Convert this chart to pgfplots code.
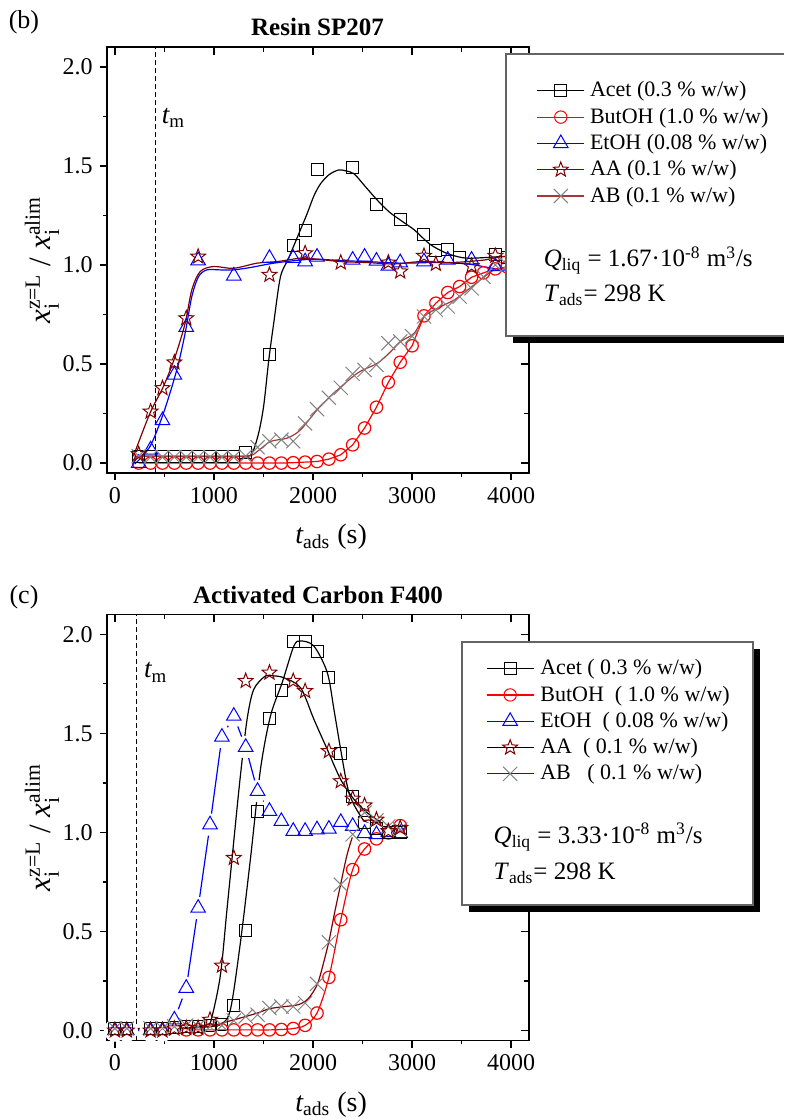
\documentclass[border=0pt]{standalone}
\usepackage{fontspec}
\setmainfont{Liberation Serif}
\usepackage{amsmath}
\usepackage{pgfplots}
\usepackage{pgfplotstable}
\pgfplotsset{compat=1.18}
\definecolor{dred}{RGB}{128,0,0}
\definecolor{abred}{RGB}{165,55,55}
\definecolor{xgray}{RGB}{130,130,130}
\definecolor{boxgray}{RGB}{100,100,100}

\pgfdeclareplotmark{ostar}{%
  \pgfpathmoveto{\pgfqpoint{0pt}{\pgfplotmarksize}}%
  \pgfpathlineto{\pgfqpoint{-0.24687\pgfplotmarksize}{0.33979\pgfplotmarksize}}%
  \pgfpathlineto{\pgfqpoint{-0.95106\pgfplotmarksize}{0.30902\pgfplotmarksize}}%
  \pgfpathlineto{\pgfqpoint{-0.39945\pgfplotmarksize}{-0.12979\pgfplotmarksize}}%
  \pgfpathlineto{\pgfqpoint{-0.58779\pgfplotmarksize}{-0.80902\pgfplotmarksize}}%
  \pgfpathlineto{\pgfqpoint{0pt}{-0.42\pgfplotmarksize}}%
  \pgfpathlineto{\pgfqpoint{0.58779\pgfplotmarksize}{-0.80902\pgfplotmarksize}}%
  \pgfpathlineto{\pgfqpoint{0.39945\pgfplotmarksize}{-0.12979\pgfplotmarksize}}%
  \pgfpathlineto{\pgfqpoint{0.95106\pgfplotmarksize}{0.30902\pgfplotmarksize}}%
  \pgfpathlineto{\pgfqpoint{0.24687\pgfplotmarksize}{0.33979\pgfplotmarksize}}%
  \pgfpathclose
  \pgfusepathqstroke
}

\pgfplotsset{
  base/.style={
    scale only axis, width=211pt, height=213pt,
    xmin=-80, xmax=4180, ymin=-0.05, ymax=2.1,
    xtick={0,1000,2000,3000,4000}, minor xtick={500,1500,2500,3500},
    ytick={0,0.5,1,1.5,2}, minor ytick={0.25,0.75,1.25,1.75},
    anchor=south west,
  },
  mainax/.style={base, axis on top,
    tick align=outside, xtick pos=left, ytick pos=left,
    axis line style={line width=0.8pt},
    major tick length=3.6pt, minor tick length=2pt,
    every tick/.style={black, line width=0.7pt},
    tick label style={font=\fontsize{12}{14}\selectfont},
    /pgf/number format/assume math mode=true,
    yticklabel style={/pgf/number format/fixed, /pgf/number format/fixed zerofill, /pgf/number format/precision=1},
    xticklabel style={/pgf/number format/set thousands separator={}},
  },
  tickax/.style={base,
    tick align=inside, xtick pos=right, ytick pos=right,
    xticklabels={}, yticklabels={}, axis line style={draw=none},
    major tick length=4pt, minor tick length=2.5pt,
    every tick/.style={black, line width=0.7pt},
  },
  legax/.style={base, hide axis,
    legend cell align=left,
    legend image code/.code={\draw[mark repeat=2,mark phase=2,##1] plot coordinates {(0pt,0pt) (11.8pt,0pt) (23.6pt,0pt)};},
  },
  legsty/.style={legend style={anchor=north west, draw=none, fill=none, inner sep=0pt, outer sep=0pt,
    font=\fontsize{11}{12}\selectfont, row sep=0pt, column sep=#1,
    nodes={inner sep=0pt, outer sep=0pt, minimum height=13.15pt}}},
  mk/.style={only marks, mark options={solid}, line width=0.5pt},
  sq/.style={mk, black, mark=square, mark size=3pt},
  ci/.style={red, mark=o, mark size=3.1pt, mark options={solid}, line width=0.6pt},
  tr/.style={mk, blue, mark=triangle, mark size=4.2pt},
  st/.style={mk, dred, mark=ostar, mark size=3.9pt},
  xx/.style={mk, xgray, mark=x, mark size=5pt},
  cv/.style={smooth, line width=0.6pt, no marks},
}

\pgfplotstableread{
x y
0 0
120 0
360 0
480 0
600 0.054
720 0.214
840 0.618
960 1.039
1080 1.481
1200 1.587
1320 1.43
1440 1.208
1560 1.107
1680 1.056
1800 1.006
1920 1.006
2040 1.014
2160 1.017
2280 1.051
2400 1.031
2520 0.995
2640 0.989
2760 1.0
2880 0.995
}\etohc

\begin{document}
\begin{tikzpicture}
\path[use as bounding box] (0pt,0pt) rectangle (392pt,560pt);

% ================= Panel (b) =================
\begin{axis}[mainax, at={(53.5pt,323.5pt)}]
\addplot[black, line width=0.5pt, dash pattern=on 2.5pt off 1.5pt] coordinates {(405,-0.05) (405,2.1)};
% curves
\addplot[cv, black] coordinates {(240,0.035) (800,0.035) (1300,0.035) (1384,0.05) (1450,0.15) (1502,0.29) (1553,0.52) (1604,0.71) (1671,0.94) (1750,1.03) (1850,1.15) (1941,1.26) (2010,1.35) (2076,1.41) (2160,1.455) (2255,1.479) (2330,1.475) (2414,1.46) (2520,1.40) (2616,1.345) (2700,1.30) (2785,1.261) (2900,1.22) (3022,1.177) (3100,1.14) (3190,1.101) (3300,1.07) (3393,1.051) (3562,1.034) (3899,1.042) (4000,1.04)};
\addplot[cv, blue] coordinates {(200,-0.005) (354,0.084) (490,0.252) (625,0.471) (709,0.656) (776,0.84) (844,0.941) (928,0.975) (1063,0.975) (1198,0.975) (1367,0.987) (1604,1.009) (1874,1.025) (2042,1.029) (2279,1.022) (2549,1.017) (2886,1.009) (3224,1.012) (3562,1.005) (3899,0.975) (4000,0.98)};
\addplot[cv, abred] coordinates {(200,0.035) (800,0.033) (1323,0.034) (1440,0.06) (1570,0.109) (1739,0.126) (1874,0.168) (2042,0.269) (2211,0.353) (2448,0.454) (2650,0.504) (2785,0.563) (2886,0.614) (3022,0.656) (3123,0.74) (3258,0.782) (3427,0.824) (3562,0.874) (3730,0.941) (3832,0.975) (4000,0.99)};
\addplot[cv, dred] coordinates {(186,0.034) (354,0.252) (490,0.387) (608,0.538) (709,0.706) (776,0.874) (861,0.967) (996,0.992) (1198,0.983) (1435,1.009) (1637,1.017) (1874,1.034) (2042,1.029) (2279,1.017) (2549,1.012) (2819,1.005) (3089,1.017) (3393,1.012) (3730,1.025) (3899,1.042) (4000,1.04)};
% ButOH
\addplot[ci] coordinates {(240,0) (360,0) (480,0) (600,0) (720,0) (840,0) (960,0) (1080,0) (1200,0) (1320,0) (1440,0) (1560,0) (1680,0) (1800,0.002) (1920,0.005) (2040,0.008) (2160,0.02) (2280,0.042) (2400,0.092) (2520,0.177) (2640,0.282) (2760,0.408) (2880,0.509) (3000,0.592) (3120,0.743) (3240,0.807) (3360,0.861) (3480,0.891) (3600,0.938) (3720,0.96) (3840,0.98) (3960,0.99)};
% markers
\addplot[sq] coordinates {(240,0.035) (360,0.035) (480,0.035) (600,0.035) (720,0.035) (840,0.035) (960,0.035) (1080,0.035) (1200,0.035) (1320,0.055) (1560,0.55) (1800,1.096) (1920,1.172) (2040,1.483) (2400,1.491) (2640,1.303) (2880,1.23) (3120,1.152) (3240,1.072) (3360,1.076) (3480,1.039) (3840,1.051) (3960,1.04)};
\addplot[tr] coordinates {(240,0.0) (360,0.067) (480,0.215) (600,0.445) (720,0.686) (840,1.022) (1200,0.945) (1560,1.034) (1800,1.034) (1920,1.017) (2040,1.04) (2400,1.025) (2520,1.04) (2640,1.02) (2760,0.995) (2880,1.012) (3120,1.017) (3360,1.025) (3600,1.025) (3840,0.992)};
\addplot[xx] coordinates {(240,0.035) (360,0.03) (480,0.03) (600,0.03) (720,0.03) (840,0.03) (960,0.03) (1080,0.03) (1200,0.03) (1320,0.035) (1440,0.08) (1560,0.11) (1680,0.118) (1800,0.11) (1920,0.2) (2040,0.272) (2160,0.33) (2280,0.38) (2400,0.45) (2520,0.47) (2640,0.496) (2760,0.605) (2880,0.614) (3000,0.64) (3120,0.74) (3240,0.773) (3360,0.79) (3480,0.84) (3600,0.882) (3720,0.94) (3840,1.0) (3960,1.0)};
\addplot[st] coordinates {(240,0.045) (360,0.26) (480,0.378) (600,0.508) (720,0.731) (840,1.042) (1560,0.95) (1920,1.059) (2280,1.012) (2760,1.012) (2880,0.967) (3120,1.046) (3240,1.005) (3600,0.995) (3840,1.046)};
\node[anchor=base west, font=\fontsize{13.5}{15}\selectfont, inner sep=0pt] at (axis cs:470,1.715) {$\textit{t}_{\text{m}}$};
\end{axis}
\begin{axis}[tickax, at={(53.5pt,323.5pt)}]
\end{axis}
% legend box (b), cut at the right edge of the page
\fill[black] (256.5pt,388.5pt) rectangle (392pt,392pt);
\fill[white] (253pt,392pt) rectangle (392pt,533pt);
\draw[boxgray, line width=0.6pt] (392pt,533pt) -- (253pt,533pt) -- (253pt,392pt) -- (392pt,392pt);
\begin{axis}[legax, at={(53.5pt,323.5pt)}, legsty=2.5pt, legend style={at={(1.018,0.928)}}]
\addlegendimage{black, line width=0.6pt, mark=square, mark size=3pt, mark options={solid, line width=0.5pt}}
\addlegendentry{Acet (0.3 \% w/w)}
\addlegendimage{red, line width=0.6pt, mark=o, mark size=3.1pt, mark options={solid, line width=0.5pt}}
\addlegendentry{ButOH (1.0 \% w/w)}
\addlegendimage{blue, line width=0.6pt, mark=triangle, mark size=4.2pt, mark options={solid, line width=0.5pt}}
\addlegendentry{EtOH (0.08 \% w/w)}
\addlegendimage{dred, line width=0.6pt, mark=ostar, mark size=3.9pt, mark options={solid, line width=0.5pt}}
\addlegendentry{AA (0.1 \% w/w)}
\addlegendimage{abred, line width=0.6pt, mark=x, mark size=5pt, mark options={solid, xgray, line width=0.5pt}}
\addlegendentry{AB (0.1 \% w/w)}
\end{axis}
\node[anchor=base west, font=\fontsize{12.5}{15}\selectfont, inner sep=0pt] at (271.7pt,426.6pt) {\textit{Q}\textsubscript{liq} = 1.67·10\textsuperscript{-8} m\textsuperscript{3}/s};
\node[anchor=base west, font=\fontsize{12.5}{15}\selectfont, inner sep=0pt] at (271.7pt,409.1pt) {\textit{T}\textsubscript{ads}= 298 K};
\node[font=\fontsize{12.5}{15}\selectfont\bfseries] at (158.75pt,546.5pt) {Resin SP207};
\node[font=\fontsize{13}{15}\selectfont] at (12pt,549pt) {(b)};
\node[anchor=base west, font=\fontsize{14}{16}\selectfont, inner sep=0pt] at (147.5pt,288pt) {$\textit{t}_{\text{ads}}$ (s)};
\node[rotate=90, font=\fontsize{15.5}{17}\selectfont] at (21pt,430pt) {$\textit{x}_{\text{i}}^{\text{z=L}}$ / $\textit{x}_{\text{i}}^{\text{alim}}$};

% ================= Panel (c) =================
\begin{axis}[mainax, at={(53.5pt,39.8pt)}]
% EtOH line with gaps around its markers
\addplot[blue, line width=0.6pt, no marks] table {\etohc};
\addplot[white, only marks, mark=*, mark size=5.4pt, mark options={draw=white, fill=white}] table {\etohc};
\addplot[black, line width=0.5pt, dash pattern=on 2.5pt off 1.5pt] coordinates {(213,-0.05) (213,2.1)};
% curves
\addplot[cv, black] coordinates {(0,0.01) (600,0.012) (900,0.02) (1063,0.029) (1165,0.104) (1266,0.441) (1367,0.862) (1469,1.317) (1570,1.587) (1688,1.755) (1806,1.94) (1874,1.966) (2009,1.94) (2144,1.806) (2211,1.62) (2279,1.418) (2363,1.199) (2481,1.081) (2549,1.048) (2718,1.022) (2886,1.014)};
\addplot[cv, black] coordinates {(600,0.01) (900,0.02) (962,0.037) (1063,0.273) (1131,0.61) (1198,0.947) (1266,1.283) (1334,1.57) (1401,1.721) (1519,1.789) (1600,1.79) (1705,1.78) (1874,1.73) (2009,1.57) (2144,1.418) (2279,1.267) (2414,1.166) (2549,1.098) (2751,1.031) (2886,1.014)};
\addplot[cv, dred] coordinates {(-70,0.005) (350,0.005) (700,0.01) (950,0.02) (1100,0.04) (1316,0.07) (1450,0.09) (1560,0.11) (1700,0.12) (1850,0.13) (1950,0.16) (2042,0.231) (2100,0.33) (2160,0.45) (2220,0.6) (2278,0.736) (2340,0.88) (2400,0.98) (2460,1.04) (2520,1.06) (2600,1.06) (2700,1.04) (2880,1.014)};
\addplot[ci, smooth] coordinates {(720,0.003) (840,0.003) (960,0.003) (1080,0.003) (1200,0.003) (1320,0.003) (1440,0.003) (1560,0.003) (1680,0.005) (1800,0.01) (1920,0.026) (2040,0.088) (2160,0.268) (2280,0.559) (2400,0.812) (2520,0.916) (2640,0.967) (2760,0.997) (2880,1.034)};
\addplot[tr] table {\etohc};
% markers
\addplot[sq] coordinates {(0,0.01) (120,0.01) (360,0.01) (480,0.01) (600,0.015) (720,0.02) (840,0.02) (960,0.025) (1080,0.03) (1200,0.126) (1320,0.504) (1440,1.103) (1560,1.573) (1680,1.716) (1800,1.962) (1920,1.962) (2040,1.912) (2160,1.78) (2280,1.396) (2400,1.182) (2520,1.05) (2640,1.02) (2760,1.0) (2880,1.0)};
\addplot[xx] coordinates {(0,0.01) (120,0.01) (360,0.01) (480,0.01) (600,0.02) (720,0.025) (840,0.02) (960,0.02) (1080,0.025) (1200,0.05) (1320,0.071) (1440,0.08) (1560,0.113) (1680,0.121) (1800,0.121) (1920,0.138) (2040,0.235) (2160,0.445) (2280,0.736) (2400,0.99) (2520,1.1) (2640,1.06) (2760,1.03) (2880,1.014)};
\addplot[st] coordinates {(0,0) (120,0) (360,0) (480,0) (600,0.01) (720,0.013) (840,0.013) (960,0.054) (1080,0.327) (1200,0.871) (1320,1.764) (1560,1.806) (1800,1.764) (1920,1.713) (2160,1.41) (2280,1.258) (2400,1.17) (2520,1.136) (2640,1.064) (2760,1.006) (2880,1.022)};
\node[anchor=base west, font=\fontsize{13.5}{15}\selectfont, inner sep=0pt] at (axis cs:290,1.78) {$\textit{t}_{\text{m}}$};
\end{axis}
\begin{axis}[tickax, at={(53.5pt,39.8pt)}]
\end{axis}
% legend box (c)
\fill[black] (234.5pt,104pt) rectangle (380pt,235.5pt);
\filldraw[fill=white, draw=boxgray, line width=0.6pt] (231pt,107.5pt) rectangle (376.5pt,239pt);
\begin{axis}[legax, at={(53.5pt,39.8pt)}, legsty=3pt, legend style={at={(0.898,0.9035)}}]
\addlegendimage{black, line width=0.6pt, mark=square, mark size=3pt, mark options={solid, line width=0.5pt}}
\addlegendentry{Acet ( 0.3 \% w/w)}
\addlegendimage{red, line width=0.6pt, mark=o, mark size=3.1pt, mark options={solid, line width=0.5pt}}
\addlegendentry{ButOH\ \ ( 1.0 \% w/w)}
\addlegendimage{blue, line width=0.6pt, mark=triangle, mark size=4.2pt, mark options={solid, line width=0.5pt}}
\addlegendentry{EtOH\ \ ( 0.08 \% w/w)}
\addlegendimage{black, line width=0.6pt, mark=ostar, mark size=3.9pt, mark options={solid, dred, line width=0.5pt}}
\addlegendentry{AA\ \ ( 0.1 \% w/w)}
\addlegendimage{dred, line width=0.6pt, mark=x, mark size=5pt, mark options={solid, xgray, line width=0.5pt}}
\addlegendentry{AB\ \ \ ( 0.1 \% w/w)}
\end{axis}
\node[anchor=base west, font=\fontsize{12.5}{15}\selectfont, inner sep=0pt] at (246.65pt,138.35pt) {\textit{Q}\textsubscript{liq} = 3.33·10\textsuperscript{-8} m\textsuperscript{3}/s};
\node[anchor=base west, font=\fontsize{12.5}{15}\selectfont, inner sep=0pt] at (246.65pt,120pt) {\textit{T}\textsubscript{ads}= 298 K};
\node[font=\fontsize{12.5}{15}\selectfont\bfseries] at (159pt,262.5pt) {Activated Carbon F400};
\node[font=\fontsize{13}{15}\selectfont] at (12pt,261.5pt) {(c)};
\node[anchor=base west, font=\fontsize{14}{16}\selectfont, inner sep=0pt] at (147.5pt,4.25pt) {$\textit{t}_{\text{ads}}$ (s)};
\node[rotate=90, font=\fontsize{15.5}{17}\selectfont] at (21pt,146.3pt) {$\textit{x}_{\text{i}}^{\text{z=L}}$ / $\textit{x}_{\text{i}}^{\text{alim}}$};
\end{tikzpicture}
\end{document}
